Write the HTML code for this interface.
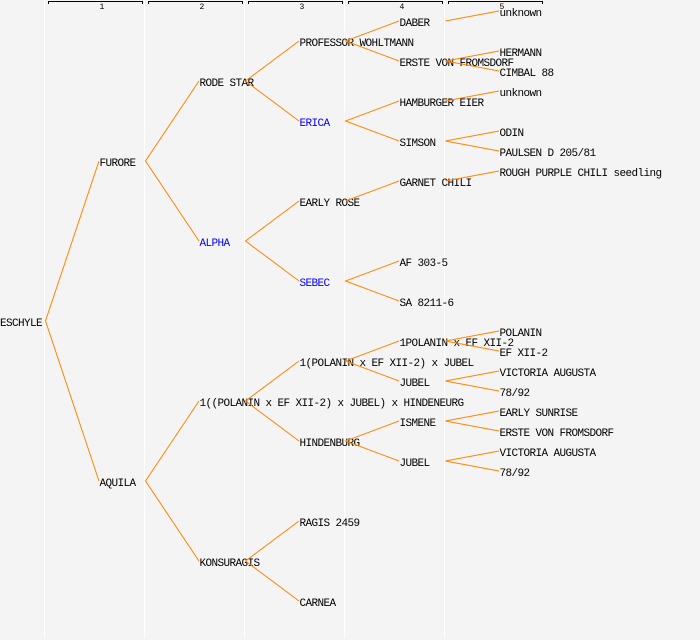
<!DOCTYPE html>
<html><head><meta charset="utf-8"><style>
html,body{margin:0;padding:0;background:#f4f4f4;}
svg{display:block;}
text{font-family:"Liberation Mono","DejaVu Sans Mono",monospace;font-size:11px;letter-spacing:-0.6px;fill:#000;}
.h{font-size:8px;letter-spacing:0;}
.b{fill:#0000ff;}
</style></head><body>
<svg width="700" height="640" viewBox="0 0 700 640" xmlns="http://www.w3.org/2000/svg">
<rect width="700" height="640" fill="#f4f4f4"/>
<g stroke="#ffffff" stroke-width="1">
<line x1="44.5" y1="0" x2="44.5" y2="638"/>
<line x1="144.5" y1="0" x2="144.5" y2="638"/>
<line x1="244.5" y1="0" x2="244.5" y2="638"/>
<line x1="344.5" y1="0" x2="344.5" y2="638"/>
<line x1="444.5" y1="0" x2="444.5" y2="638"/>
</g>
<g stroke="#000" stroke-width="1" fill="none">
<path d="M48.5 4V1.5H142.5V4"/>
<path d="M148.5 4V1.5H242.5V4"/>
<path d="M248.5 4V1.5H342.5V4"/>
<path d="M348.5 4V1.5H442.5V4"/>
<path d="M448.5 4V1.5H542.5V4"/>
</g>
<text class="h" x="99.5" y="9">1</text>
<text class="h" x="199.5" y="9">2</text>
<text class="h" x="299.5" y="9">3</text>
<text class="h" x="399.5" y="9">4</text>
<text class="h" x="499.5" y="9">5</text>

<text x="0" y="326">ESCHYLE</text>
<text x="99.5" y="166">FURORE</text>
<text x="99.5" y="486">AQUILA</text>
<text x="199.5" y="86">RODE STAR</text>
<text x="199.5" y="246" class="b">ALPHA</text>
<text x="199.5" y="406">1((POLANIN x EF XII-2) x JUBEL) x HINDENEURG</text>
<text x="199.5" y="566">KONSURAGIS</text>
<text x="299.5" y="46">PROFESSOR WOHLTMANN</text>
<text x="299.5" y="126" class="b">ERICA</text>
<text x="299.5" y="206">EARLY ROSE</text>
<text x="299.5" y="286" class="b">SEBEC</text>
<text x="299.5" y="366">1(POLANIN x EF XII-2) x JUBEL</text>
<text x="299.5" y="446">HINDENBURG</text>
<text x="299.5" y="526">RAGIS 2459</text>
<text x="299.5" y="606">CARNEA</text>
<text x="399.5" y="26">DABER</text>
<text x="399.5" y="66">ERSTE VON FROMSDORF</text>
<text x="399.5" y="106">HAMBURGER EIER</text>
<text x="399.5" y="146">SIMSON</text>
<text x="399.5" y="186">GARNET CHILI</text>
<text x="399.5" y="266">AF 303-5</text>
<text x="399.5" y="306">SA 8211-6</text>
<text x="399.5" y="346">1POLANIN x EF XII-2</text>
<text x="399.5" y="386">JUBEL</text>
<text x="399.5" y="426">ISMENE</text>
<text x="399.5" y="466">JUBEL</text>
<text x="499.5" y="16">unknown</text>
<text x="499.5" y="56">HERMANN</text>
<text x="499.5" y="76">CIMBAL 88</text>
<text x="499.5" y="96">unknown</text>
<text x="499.5" y="136">ODIN</text>
<text x="499.5" y="156">PAULSEN D 205/81</text>
<text x="499.5" y="176">ROUGH PURPLE CHILI seedling</text>
<text x="499.5" y="336">POLANIN</text>
<text x="499.5" y="356">EF XII-2</text>
<text x="499.5" y="376">VICTORIA AUGUSTA</text>
<text x="499.5" y="396">78/92</text>
<text x="499.5" y="416">EARLY SUNRISE</text>
<text x="499.5" y="436">ERSTE VON FROMSDORF</text>
<text x="499.5" y="456">VICTORIA AUGUSTA</text>
<text x="499.5" y="476">78/92</text>

<g stroke="#ff8400" stroke-width="1" fill="none">
<path d="M99 161L45.5 321L99 481"/>
<path d="M199 81L145.5 161L199 241"/>
<path d="M199 401L145.5 481L199 561"/>
<path d="M299 41L245.5 81L299 121"/>
<path d="M299 201L245.5 241L299 281"/>
<path d="M299 361L245.5 401L299 441"/>
<path d="M299 521L245.5 561L299 601"/>
<path d="M399 21L345.5 41L399 61"/>
<path d="M399 101L345.5 121L399 141"/>
<path d="M399 181L345.5 201"/>
<path d="M399 261L345.5 281L399 301"/>
<path d="M399 341L345.5 361L399 381"/>
<path d="M399 421L345.5 441L399 461"/>
<path d="M499 11L445.5 21"/>
<path d="M499 51L445.5 61L499 71"/>
<path d="M499 91L445.5 101"/>
<path d="M499 131L445.5 141L499 151"/>
<path d="M499 171L445.5 181"/>
<path d="M499 331L445.5 341L499 351"/>
<path d="M499 371L445.5 381L499 391"/>
<path d="M499 411L445.5 421L499 431"/>
<path d="M499 451L445.5 461L499 471"/>
</g>
</svg>
</body></html>
